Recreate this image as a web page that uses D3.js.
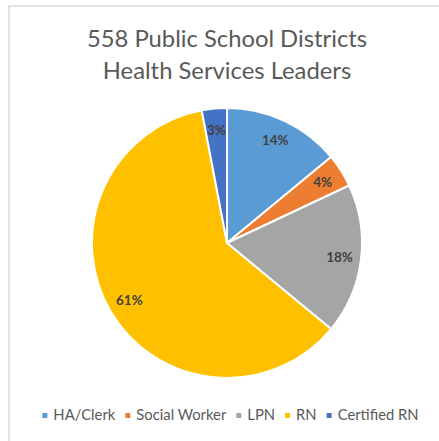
<!DOCTYPE html>
<html><head><meta charset="utf-8">
<script src="https://cdn.jsdelivr.net/npm/d3@7"></script>
<style>html,body{margin:0;padding:0;background:#fff;}svg{display:block;}</style>
</head><body>
<svg id="chart" width="439" height="441"></svg>
<script>
const categories = ["HA/Clerk", "Social Worker", "LPN", "RN", "Certified RN"];
const values = [14, 4, 18, 61, 3];
const labels = ["14%", "4%", "18%", "61%", "3%"];
const colors = ["#5B9BD5", "#ED7D31", "#A5A5A5", "#FFC000", "#4472C4"];
const titleLines = ["558 Public School Districts", "Health Services Leaders"];

const svg = d3.select("#chart");
const W = 439, H = 441;
const font = "Lato, 'Open Sans', sans-serif";

// frame
svg.append("rect").attr("x", 9).attr("y", 6).attr("width", W + 10).attr("height", H + 10)
  .attr("fill", "none").attr("stroke", "#D9D9D9").attr("stroke-width", 1.5);

// title
svg.append("g").selectAll("text").data(titleLines).join("text")
  .attr("x", 227).attr("y", (d, i) => 47 + i * 32)
  .attr("text-anchor", "middle").attr("font-family", font).attr("font-size", 23.8)
  .attr("fill", "#595959").text(d => d);

// pie
const cx = 227, cy = 243, r = 135;
const data = categories.map((c, i) => ({ name: c, value: values[i], label: labels[i], color: colors[i] }));
const pie = d3.pie().sort(null).value(d => d.value);
const arcs = pie(data);
const arc = d3.arc().innerRadius(0).outerRadius(r);
const labelArc = d3.arc().innerRadius(r * 0.84).outerRadius(r * 0.84);
const g = svg.append("g").attr("transform", `translate(${cx},${cy})`);
g.selectAll("path").data(arcs).join("path")
  .attr("d", arc).attr("fill", d => d.data.color)
  .attr("stroke", "#fff").attr("stroke-width", 2).attr("stroke-linejoin", "round");
g.selectAll("text").data(arcs).join("text")
  .attr("transform", d => `translate(${labelArc.centroid(d)})`)
  .attr("text-anchor", "middle").attr("dy", "0.35em")
  .attr("font-family", font).attr("font-size", 13.5).attr("font-weight", "bold")
  .attr("fill", "#404040").text(d => d.data.label);

// legend
const lg = svg.append("g");
const items = lg.selectAll("g").data(data).join("g");
items.append("rect").attr("width", 5).attr("height", 5).attr("y", -7).attr("fill", d => d.color);
items.append("text").attr("x", 11).attr("y", 0)
  .attr("font-family", font).attr("font-size", 14.8).attr("fill", "#595959").text(d => d.name);
let x = 0;
const pos = [];
items.each(function(d) {
  const tw = d3.select(this).select("text").node().getComputedTextLength();
  pos.push(x);
  x += 11 + tw + 10;
});
const total = x - 10;
const startX = 230.5 - total / 2;
items.attr("transform", (d, i) => `translate(${startX + pos[i]},420)`);
</script>
</body></html>
